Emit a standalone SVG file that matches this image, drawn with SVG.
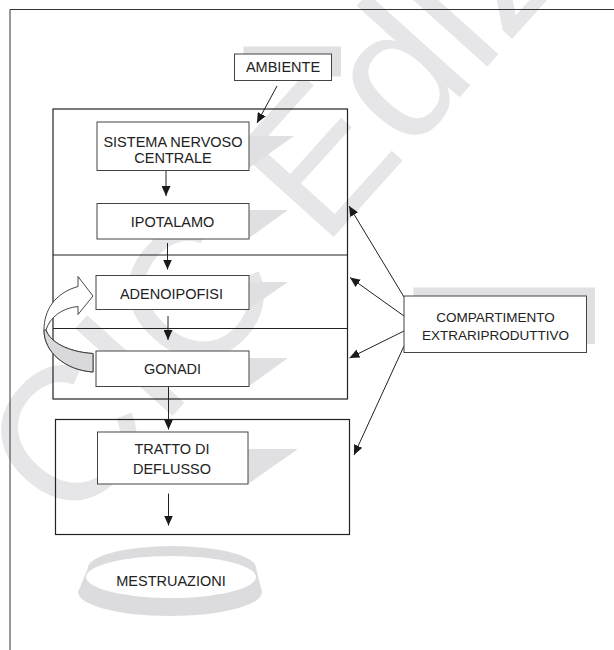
<svg xmlns="http://www.w3.org/2000/svg" width="614" height="650" viewBox="0 0 614 650">
<defs>
<style>
.wm{fill:#e6e6e8;font-family:"Liberation Sans",Arial,sans-serif;font-size:190px}
.sh{fill:#e0e0e3;stroke:none}
.box{fill:#fff;stroke:#444;stroke-width:1}
.cont{fill:none;stroke:#222;stroke-width:1.2}
.t{font-family:"Liberation Sans",Arial,sans-serif;font-size:14.5px;fill:#222;text-anchor:middle}
.ts{font-size:13.5px}
.ln{stroke:#222;stroke-width:1;fill:none;marker-end:url(#ah)}
</style>
<marker id="ah" markerUnits="userSpaceOnUse" markerWidth="10" markerHeight="9" refX="10" refY="4.5" orient="auto">
<path d="M0,0 L10,4.5 L0,9 Z" fill="#1a1a1a"/>
</marker>
</defs>
<rect width="614" height="650" fill="#fff"/>
<text class="wm" transform="translate(69,531) rotate(-48)">CIC Edizioni</text>
<g id="frame">
<path d="M10,650 L10,9.5 L614,9.5" fill="none" stroke="#333" stroke-width="1"/>
</g>
<g id="shadows">
<rect class="sh" x="243.5" y="46.5" width="97.5" height="30"/>
<rect class="sh" x="413.5" y="287.5" width="181.5" height="56.5"/>
<polygon class="sh" points="249,136 294,136 249,168"/>
<polygon class="sh" points="249,210 288,210 249,238"/>
<polygon class="sh" points="249,282 288,282 249,309"/>
<polygon class="sh" points="249,358 288,358 249,386"/>
<polygon class="sh" points="248,449 298,449 248,484"/>
</g>
<g id="containers">
<rect class="cont" x="53" y="109" width="294.5" height="290"/>
<line class="cont" x1="53" y1="255" x2="347.5" y2="255"/>
<line class="cont" x1="53" y1="328.5" x2="347.5" y2="328.5"/>
<rect class="cont" x="55.5" y="419.5" width="294" height="115"/>
</g>
<g id="connectors">
<line class="ln" x1="277" y1="86" x2="257" y2="123"/>
<line class="ln" x1="166" y1="170.5" x2="166" y2="196"/>
<line class="ln" x1="167.5" y1="243" x2="167.5" y2="269.5"/>
<line class="ln" x1="168" y1="316" x2="168" y2="340"/>
<line class="ln" x1="168.5" y1="386.5" x2="168.5" y2="429.5"/>
<line class="ln" x1="168.5" y1="493.5" x2="168.5" y2="525.5"/>
<line class="ln" x1="404" y1="297" x2="349" y2="206"/>
<line class="ln" x1="404" y1="316" x2="350" y2="277.5"/>
<line class="ln" x1="404" y1="331" x2="349.5" y2="358"/>
<line class="ln" x1="404" y1="346" x2="354" y2="455"/>
</g>
<g id="feedback">
<path d="M93,372 C65,370 44,352 44,330 C44,310 55,293 78,286.5 L78,276.5 L93,296 L78,314.5 L78,306.5 C62,308 50,317 46,330 C50,342 68,352 93,353.5 Z" fill="#fff" stroke="#333" stroke-width="0.9"/>
<path d="M93,372 C65,370 44,352 44,330 C45,330 46,330 46,330 C50,342 68,352 93,353.5 Z" fill="#d9d9db" stroke="#333" stroke-width="0.9"/>
</g>
<g id="n-ambiente">
<rect class="box" x="234.5" y="54" width="97" height="26.5"/>
<text class="t" x="283" y="71.5">AMBIENTE</text>
</g>
<g id="n-snc">
<rect class="box" x="97" y="122" width="152" height="48.5"/>
<text class="t" x="173" y="147">SISTEMA NERVOSO</text>
<text class="t" x="173" y="162.5">CENTRALE</text>
</g>
<g id="n-ipotalamo">
<rect class="box" x="97" y="203.5" width="152" height="35.5"/>
<text class="t" x="172.5" y="227">IPOTALAMO</text>
</g>
<g id="n-adenoipofisi">
<rect class="box" x="96" y="275.5" width="153" height="34"/>
<text class="t" x="171.5" y="298.5">ADENOIPOFISI</text>
</g>
<g id="n-gonadi">
<rect class="box" x="96" y="351" width="153" height="35.5"/>
<text class="t" x="172.5" y="373.5">GONADI</text>
</g>
<g id="n-tratto">
<rect class="box" x="97.5" y="432" width="150.5" height="52"/>
<text class="t" x="172" y="454">TRATTO DI</text>
<text class="t" x="172" y="474">DEFLUSSO</text>
</g>
<g id="n-compartimento">
<rect class="box" x="404" y="296" width="182.5" height="56.5"/>
<text class="t ts" x="495.5" y="322">COMPARTIMENTO</text>
<text class="t ts" x="495.5" y="340">EXTRARIPRODUTTIVO</text>
</g>
<g id="n-mestruazioni">
<path d="M88,568 A84,22 0 0 1 256,568 L262,592 A92,24 0 0 1 78,592 Z" fill="#dcdcde"/>
<ellipse cx="171" cy="577" rx="85" ry="21" fill="#fff"/>
<text class="t" x="171" y="585.5">MESTRUAZIONI</text>
</g>
</svg>
